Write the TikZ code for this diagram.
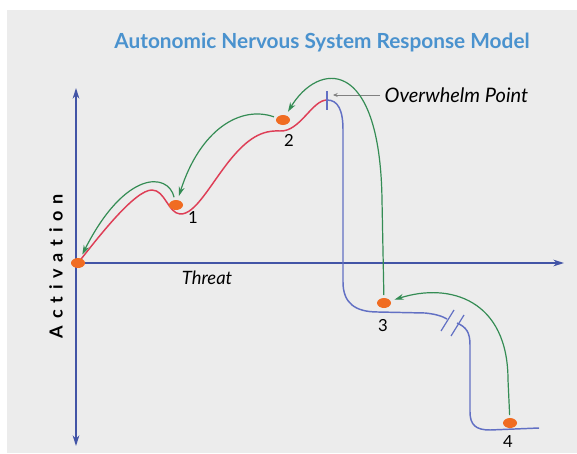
\documentclass[tikz,border=0pt]{standalone}
\usepackage{fontspec}
\setmainfont{Lato}
\usetikzlibrary{arrows.meta,shapes.geometric}

\definecolor{bggray}{RGB}{236,236,236}
\definecolor{axisblue}{RGB}{66,84,166}
\definecolor{titleblue}{RGB}{74,146,206}
\definecolor{curvered}{RGB}{222,62,86}
\definecolor{curveblue}{RGB}{98,112,196}
\definecolor{flowgreen}{RGB}{52,140,84}
\definecolor{dotorange}{RGB}{240,108,34}

\tikzset{
  x=0.75pt, y=-0.75pt,
  dot/.style={ellipse, fill=dotorange, inner sep=0pt, minimum width=10.5pt, minimum height=7.5pt},
  num/.style={font=\fontsize{12.5}{12.5}\selectfont},
  flow/.style={draw=flowgreen, line width=0.9pt, -{Stealth[length=7pt,width=4.5pt]}, shorten <=2pt, shorten >=3pt},
  axis/.style={draw=axisblue, line width=1pt},
  redline/.style={draw=curvered, line width=1.1pt},
  blueline/.style={draw=curveblue, line width=1.1pt}
}

\begin{document}
\begin{tikzpicture}
  \useasboundingbox (0,0) rectangle (577,453);
  \fill[bggray] (7,10) rectangle (577,453);

  \node[font=\bfseries\fontsize{15.6}{15.6}\selectfont, text=titleblue] (title) at (322,43) {Autonomic Nervous System Response Model};

  % axes
  \coordinate (o) at (76,263);
  \draw[axis, {Stealth[length=8pt,width=5pt]}-{Stealth[length=8pt,width=5pt]}] (76,88) -- (76,446);
  \draw[axis, -{Stealth[length=8pt,width=5pt]}] (o) -- (564,263);
  \node[rotate=90, font=\bfseries\fontsize{13.5}{13.5}\selectfont] (act) at (56,266) {\hbox to 108pt{A\hfil c\hfil t\hfil i\hfil v\hfil a\hfil t\hfil i\hfil o\hfil n}};
  \node[font=\itshape\fontsize{13.8}{13.8}\selectfont] (threat) at (207,278) {Threat};

  % response curve
  \draw[redline] (78,263) .. controls (100,235) and (135,190) .. (152,190)
    .. controls (165,190) and (168,213) .. (180,214)
    .. controls (195,215) and (210,185) .. (230,160)
    .. controls (248,138) and (262,130) .. (280,131)
    .. controls (300,132) and (312,100) .. (327,100);
  \draw[blueline] (327,100) .. controls (338,100) and (343,110) .. (343,130) -- (343,282)
    .. controls (343,303) and (355,312) .. (378,312) -- (425,313) .. controls (435,314) and (442,316) .. (447,319);
  \draw[blueline] (457,323) .. controls (466,327) and (470,332) .. (470,345) -- (470,412)
    .. controls (470,425) and (476,430) .. (490,430) -- (539,428);
  \draw[curveblue, line width=0.9pt] (441,331) -- (454,310);
  \draw[curveblue, line width=0.9pt] (451,336) -- (464,315);

  % overwhelm point
  \draw[curveblue, line width=0.9pt] (327,91) -- (327,110);
  \node[anchor=west, font=\itshape\fontsize{15}{15}\selectfont] (ow) at (380,95) {Overwhelm Point};
  \coordinate (owtip) at (333,95);
  \draw[gray, line width=0.6pt, -{Stealth[length=3.5pt,width=3pt]}] (ow.west) -- (owtip);

  % states
  \node[dot] (d0) at (78,263) {};
  \node[dot] (d1) at (176,205) {};
  \node[dot] (d2) at (283,120) {};
  \node[dot] (d3) at (384,303) {};
  \node[dot] (d4) at (510,423) {};
  \node[num] (n1) at (193,218) {1};
  \node[num] (n2) at (289,140) {2};
  \node[num] (n3) at (383,326) {3};
  \node[num] (n4) at (508,442) {4};

  % way back
  \draw[flow] (d1) .. controls (168,172) and (125,170) .. (d0);
  \draw[flow] (d2) .. controls (240,105) and (200,130) .. (d1);
  \coordinate (up3) at (382,200);
  \draw[flow] (d3) -- (up3) .. controls (380,55) and (318,62) .. (d2);
  \coordinate (up4) at (508,380);
  \draw[flow] (d4) -- (up4) .. controls (508,300) and (450,282) .. (d3);
\end{tikzpicture}
\end{document}
